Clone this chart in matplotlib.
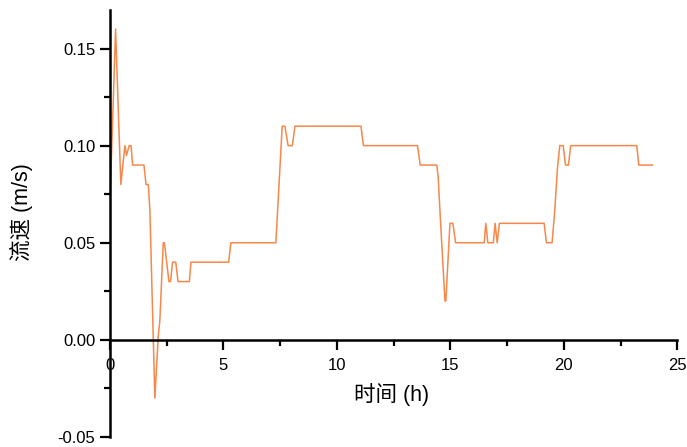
import matplotlib.pyplot as plt
from matplotlib.ticker import MultipleLocator, FormatStrFormatter

plt.rcParams['font.family'] = ['Liberation Sans', 'Noto Sans CJK SC']

# time (h) and flow velocity (m/s)
time_h = [0.0, 0.25, 0.48, 0.66, 0.73, 0.85, 0.93, 1.0, 1.5, 1.59, 1.69, 1.76,
          1.98, 2.13, 2.2, 2.35, 2.4, 2.6, 2.67, 2.76, 2.9, 3.0, 3.5, 3.57,
          5.23, 5.33, 7.31, 7.59, 7.71, 7.85, 8.04, 8.15, 11.06, 11.17, 13.55,
          13.67, 14.4, 14.46, 14.57, 14.76, 14.8, 14.98, 15.11, 15.23, 16.49,
          16.56, 16.65, 16.89, 16.97, 17.06, 17.16, 19.13, 19.23, 19.48, 19.6,
          19.72, 19.82, 19.97, 20.07, 20.2, 20.3, 23.21, 23.3, 23.9]
velocity = [0.07, 0.16, 0.08, 0.10, 0.095, 0.10, 0.10, 0.09, 0.09, 0.08, 0.08, 0.067,
            -0.03, 0.002, 0.01, 0.05, 0.05, 0.03, 0.03, 0.04, 0.04, 0.03, 0.03, 0.04,
            0.04, 0.05, 0.05, 0.11, 0.11, 0.10, 0.10, 0.11, 0.11, 0.10, 0.10,
            0.09, 0.09, 0.084, 0.06, 0.02, 0.02, 0.06, 0.06, 0.05, 0.05,
            0.06, 0.05, 0.05, 0.06, 0.05, 0.06, 0.06, 0.05, 0.05, 0.067,
            0.089, 0.10, 0.10, 0.09, 0.09, 0.10, 0.10, 0.09, 0.09]

fig = plt.figure(figsize=(6.87, 4.47), dpi=100)
ax = fig.add_axes([0.160, 0.0224, 0.826, 0.956])
ax.plot(time_h, velocity, color='#F5884A', lw=1.1)

ax.set_xlim(0, 25)
ax.set_ylim(-0.05, 0.17)
ax.spines['top'].set_visible(False)
ax.spines['right'].set_visible(False)
ax.spines['bottom'].set_position(('data', 0))
for s in ('left', 'bottom'):
    ax.spines[s].set_linewidth(1.8)

ax.xaxis.set_major_locator(MultipleLocator(5))
ax.xaxis.set_minor_locator(MultipleLocator(2.5))
ax.yaxis.set_major_locator(MultipleLocator(0.05))
ax.yaxis.set_minor_locator(MultipleLocator(0.025))
ax.yaxis.set_major_formatter(FormatStrFormatter('%.2f'))
ax.tick_params(which='major', length=7, width=1.6, labelsize=12)
ax.tick_params(which='minor', length=4, width=1.6)
ax.tick_params(axis='x', pad=6)

ax.set_xlabel('时间 (h)', fontsize=15.5)
ax.xaxis.set_label_coords(0.497, 0.127)
ax.set_ylabel('流速 (m/s)', fontsize=15.5)
ax.yaxis.set_label_coords(-0.136, 0.526)

plt.savefig('out.png', dpi=100)
